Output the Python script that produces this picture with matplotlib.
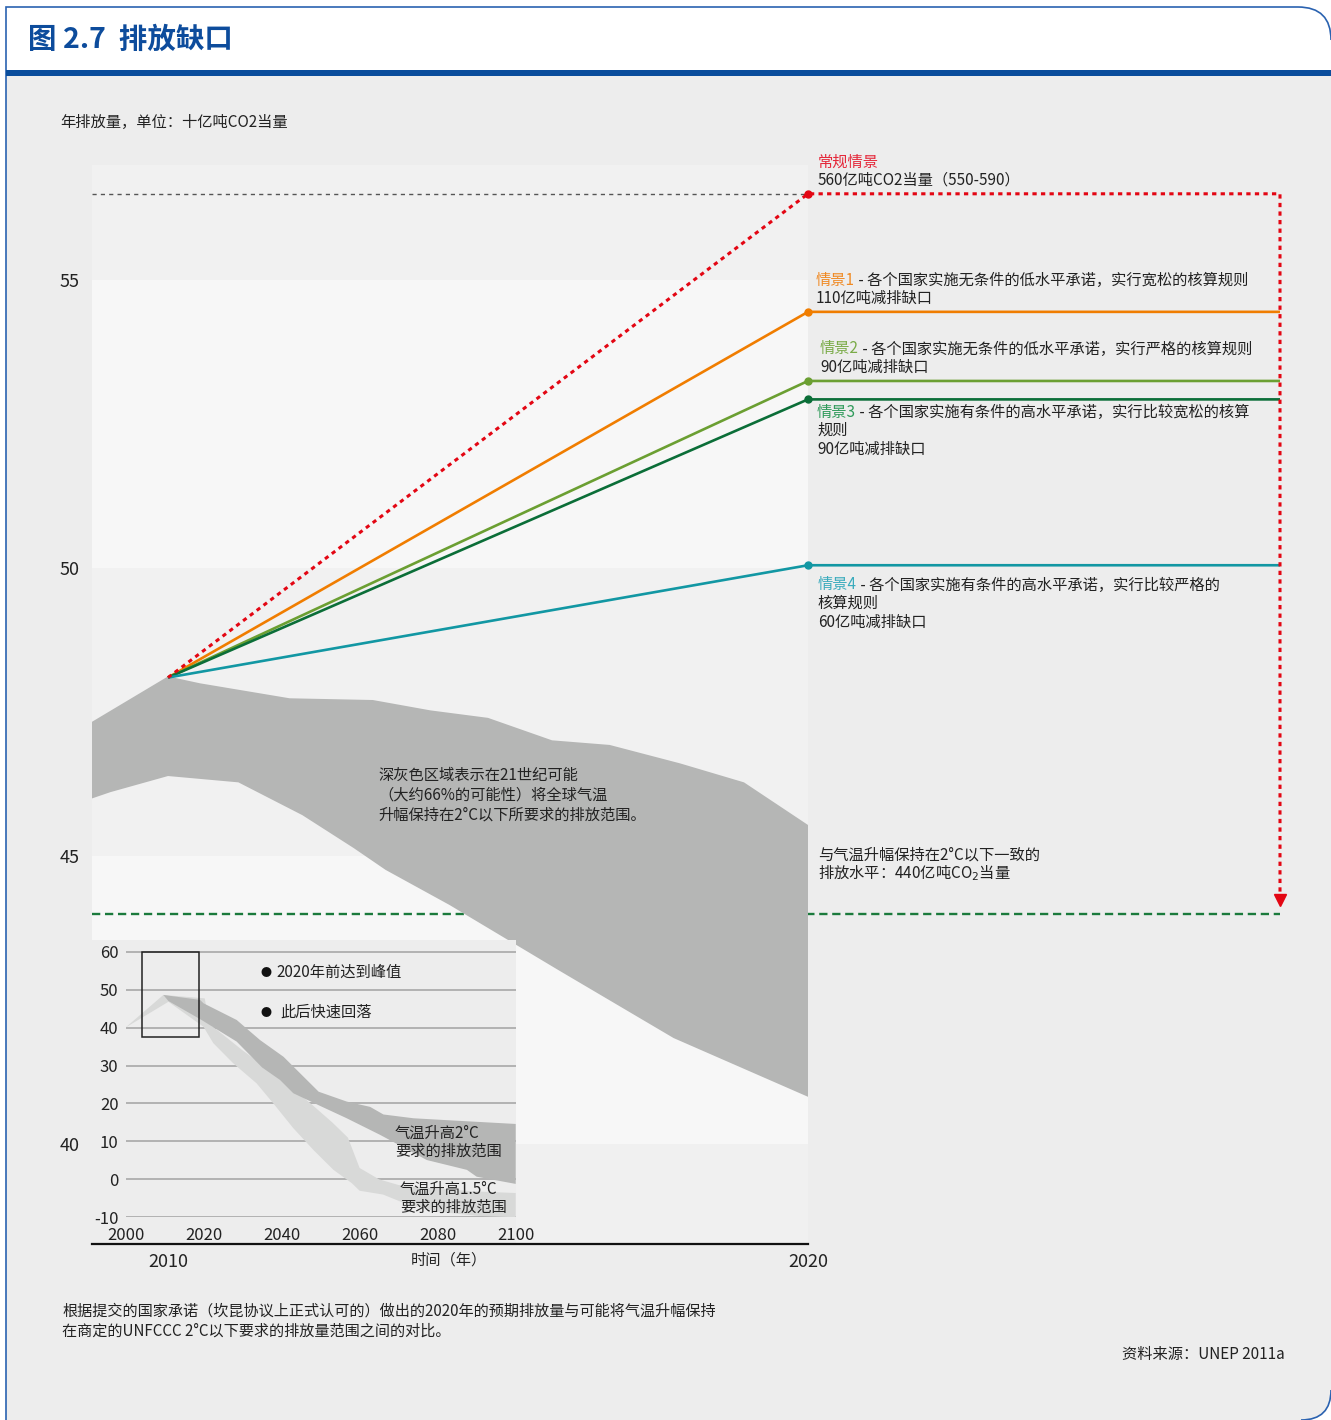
import matplotlib.pyplot as plt
import matplotlib.patches as mpatches
from matplotlib.path import Path
from matplotlib.text import Annotation

plt.rcParams['font.family'] = ['Noto Sans CJK SC', 'DejaVu Sans']
plt.rcParams['axes.unicode_minus'] = False

W, H = 1331, 1420

# dados do gráfico principal
ano_inicio = 2010
emissao_inicio = 48.1
cenarios = ['常规情景', '情景1', '情景2', '情景3', '情景4']
emissao_2020 = [56.5, 54.45, 53.25, 52.93, 50.05]
meta_2c = 44.0

faixa_sup_anos = [2008.81, 2010, 2010.5, 2011.9, 2013.2, 2014.1, 2015.0, 2016.0, 2016.9, 2018.0, 2019.0, 2020]
faixa_sup = [47.33, 48.12, 48.0, 47.74, 47.71, 47.53, 47.40, 47.01, 46.93, 46.61, 46.28, 45.54]
faixa_inf_anos = [2008.81, 2009.1, 2010, 2011.1, 2012.1, 2012.9, 2013.4, 2014.4, 2016.1, 2017.9, 2020]
faixa_inf = [46.0, 46.11, 46.39, 46.28, 45.71, 45.14, 44.76, 44.15, 43.02, 41.84, 40.82]

# dados do gráfico pequeno (2000-2100)
escuro_sup_anos = [2009.7, 2019.1, 2020, 2028.5, 2034.5, 2040.5, 2049.5, 2056.7, 2062.7, 2066.1, 2073.8, 2082.4, 2100]
escuro_sup = [48.6, 47.3, 46.4, 42.0, 36.7, 32.3, 23.1, 20.5, 19.1, 17.1, 16.1, 15.6, 14.6]
escuro_inf_anos = [2009.7, 2011, 2019.5, 2028.5, 2035, 2039.6, 2043, 2050, 2056.7, 2065.3, 2073.8, 2077.2, 2087.5, 2090, 2100]
escuro_inf = [48.6, 47.0, 42.0, 36.3, 29.5, 26.2, 22.7, 19.3, 16.1, 11.7, 7.0, 5.1, 2.5, 0.7, -1.2]
claro_sup_anos = [2000, 2009.7, 2020.3, 2021.5, 2030, 2040, 2048, 2053, 2057, 2060, 2065, 2070, 2080, 2090, 2100]
claro_sup = [40, 48.6, 47.7, 41.0, 34.0, 26.5, 19.5, 15.0, 11.0, 3.0, 0.0, -1.5, -2.5, -3.2, -3.6]
claro_inf_anos = [2000, 2011, 2020, 2022.5, 2027.6, 2033.6, 2037.9, 2043, 2048.2, 2053.3, 2058, 2060, 2066, 2072, 2080, 2090, 2100]
claro_inf = [40, 46.8, 40.2, 35.9, 30.6, 25.3, 20.0, 13.5, 7.7, 2.5, -1.0, -3.0, -4.0, -6.5, -8.5, -9.6, -10]

cores_linha = ['#e30613', '#f07d00', '#6b9f32', '#0b6e38', '#1297a3']
cores_texto = ['#e5283a', '#f08a24', '#7aab48', '#2f9a5a', '#3aabbd']
FS = 11


def fx(px):
    return px / W


def fy(py):
    return 1 - py / H


def P(px, py):
    return (fx(px), fy(py))


fig = plt.figure(figsize=(W / 100, H / 100), dpi=100)
fig.patch.set_facecolor('white')

# moldura e fundo
verts = [P(6, 76), P(1331, 76), P(1331, 1390), P(1331, 1420), P(1301, 1420), P(6, 1420), P(6, 76)]
codes = [Path.MOVETO, Path.LINETO, Path.LINETO, Path.CURVE3, Path.CURVE3, Path.LINETO, Path.CLOSEPOLY]
fig.add_artist(mpatches.PathPatch(Path(verts, codes), transform=fig.transFigure,
                                  facecolor='#ededed', edgecolor='none', zorder=-10))
borda = [P(6, 1420), P(6, 7), P(1298, 7), P(1331, 7), P(1331, 40)]
fig.add_artist(mpatches.PathPatch(Path(borda, [Path.MOVETO, Path.LINETO, Path.LINETO, Path.CURVE3, Path.CURVE3]),
                                  transform=fig.transFigure, fill=False, edgecolor='#2a62b0', lw=1.2, zorder=-9))
fig.add_artist(mpatches.PathPatch(Path([P(1331, 1390), P(1331, 1420), P(1301, 1420)],
                                       [Path.MOVETO, Path.CURVE3, Path.CURVE3]),
                                  transform=fig.transFigure, fill=False, edgecolor='#2a62b0', lw=1.2, zorder=-9))
fig.add_artist(mpatches.Rectangle(P(6, 76), fx(1331) - fx(6), 6 / H, transform=fig.transFigure,
                                  facecolor='#0a4d9c', edgecolor='none', zorder=-9))

fig.text(fx(28), fy(40), '图 2.7  排放缺口', fontsize=20.5, fontweight='bold', color='#0d4c9c', va='center')
fig.text(fx(60), fy(122), '年排放量，单位：十亿吨CO2当量', fontsize=11, color='#222222', va='center')

# eixo principal
x0, x1 = 2008.8125, 2027.375
y0, y1 = 38.264, 57.0
ax = fig.add_axes([fx(92), fy(1244), fx(1280) - fx(92), (1244 - 165) / H])
ax.set_xlim(x0, x1)
ax.set_ylim(y0, y1)
ax.set_facecolor('none')

xmax = (2020 - x0) / (x1 - x0)
limites = [y0, 40, 45, 50, 55, y1]
cores_faixa = ['#f0f0f0', '#f7f7f7', '#f1f1f1', '#f7f7f7', '#f1f1f1']
for i in range(5):
    ax.axhspan(limites[i], limites[i + 1], xmin=0, xmax=xmax, color=cores_faixa[i], lw=0, zorder=0)

ax.plot([x0, 2020], [emissao_2020[0]] * 2, color='#555555', lw=1.0, dashes=(3, 3), zorder=1)
ax.plot([x0, x1], [meta_2c] * 2, color='#1b7a3c', lw=1.7, dashes=(3.5, 2), zorder=1, clip_on=False)

poli_x = faixa_sup_anos + faixa_inf_anos[::-1]
poli_y = faixa_sup + faixa_inf[::-1]
ax.fill(poli_x, poli_y, color='#b5b6b5', lw=0, zorder=2)

# fundo do gráfico pequeno
ax.add_patch(mpatches.Rectangle((x0, y0), 2015.44 - x0, 43.54 - y0, facecolor='#ededed',
                                edgecolor='none', zorder=3))

for i in range(1, 5):
    v = emissao_2020[i]
    ax.plot([ano_inicio, 2020, x1], [emissao_inicio, v, v], color=cores_linha[i], lw=1.9,
            zorder=4, clip_on=False, solid_capstyle='butt')
    ax.plot(2020, v, 'o', ms=5, color=cores_linha[i], zorder=5)

xs = x1
ax.plot([ano_inicio, 2020, xs, xs], [emissao_inicio, emissao_2020[0], emissao_2020[0], 44.3],
        color=cores_linha[0], lw=2.2, dashes=(1.4, 1.4), zorder=5, clip_on=False)
ax.plot(2020, emissao_2020[0], 'o', ms=5, color=cores_linha[0], zorder=6)
ax.plot(xs, 44.24, marker='v', ms=8, color=cores_linha[0], zorder=6, clip_on=False)

ax.set_yticks([40, 45, 50, 55])
ax.set_xticks([2010, 2020])
ax.tick_params(axis='y', length=0, labelsize=13, pad=9, labelcolor='#222222')
ax.tick_params(axis='x', length=0, labelsize=13, pad=6.5, labelcolor='#222222')
for s in ['top', 'right', 'left']:
    ax.spines[s].set_visible(False)
ax.spines['bottom'].set_bounds(x0, 2020)
ax.spines['bottom'].set_linewidth(1.6)
ax.spines['bottom'].set_color('#111111')
ax.spines['bottom'].set_zorder(10)

fig.text(fx(449), fy(1260), '时间（年）', fontsize=11, color='#222222', ha='center', va='center')

fig.text(fx(378), fy(795), '深灰色区域表示在21世纪可能\n（大约66%的可能性）将全球气温\n升幅保持在2°C以下所要求的排放范围。',
         fontsize=FS, color='#222222', va='center', linespacing=1.2)


def rotulo(x, y, prefixo, cor, resto, linhas):
    t = fig.text(fx(x), fy(y), prefixo, color=cor, fontsize=FS, va='center')
    if resto:
        fig.add_artist(Annotation(resto, xy=(1, 0.5), xycoords=t, va='center', ha='left',
                                  fontsize=FS, color='#222222'))
    for k, linha in enumerate(linhas):
        fig.text(fx(x), fy(y + (k + 1) * 18.5), linha, fontsize=FS, color='#222222', va='center')


rotulo(818, 162, cenarios[0], cores_texto[0], '', ['560亿吨CO2当量（550-590）'])
rotulo(816, 280, cenarios[1], cores_texto[1], ' - 各个国家实施无条件的低水平承诺，实行宽松的核算规则', ['110亿吨减排缺口'])
rotulo(820, 349, cenarios[2], cores_texto[2], ' - 各个国家实施无条件的低水平承诺，实行严格的核算规则', ['90亿吨减排缺口'])
rotulo(817, 412, cenarios[3], cores_texto[3], ' - 各个国家实施有条件的高水平承诺，实行比较宽松的核算', ['规则', '90亿吨减排缺口'])
rotulo(818, 585, cenarios[4], cores_texto[4], ' - 各个国家实施有条件的高水平承诺，实行比较严格的', ['核算规则', '60亿吨减排缺口'])
rotulo(818, 855, '与气温升幅保持在2°C以下一致的', '#222222', '', ['排放水平：440亿吨CO$_2$当量'])

# gráfico pequeno
ins = fig.add_axes([fx(125.5), fy(1217.3), (515.7 - 125.5) / W, (1217.3 - 940.7) / H])
ins.set_xlim(2000, 2100)
ins.set_ylim(-10, 62.9)
ins.set_facecolor('none')
for s in ins.spines.values():
    s.set_visible(False)
ins.set_yticks(range(-10, 61, 10))
ins.set_xticks(range(2000, 2101, 20))
ins.tick_params(axis='y', length=0, labelsize=12, pad=5, labelcolor='#222222')
ins.tick_params(axis='x', length=0, labelsize=12, pad=7, labelcolor='#222222')
ins.set_axisbelow(True)
ins.grid(axis='y', color='#a8a8a8', lw=1.2)
ins.grid(axis='x', visible=False)

ins.fill(claro_sup_anos + claro_inf_anos[::-1], claro_sup + claro_inf[::-1], color='#d8d9d8', lw=0, zorder=2)
ins.fill(escuro_sup_anos + escuro_inf_anos[::-1], escuro_sup + escuro_inf[::-1], color='#b5b6b5', lw=0, zorder=3)
ins.add_patch(mpatches.Rectangle((2004.3, 37.5), 14.5, 22.3, fill=False, ec='#222222', lw=1.1, zorder=4))

fig.text(fx(266), fy(973), '●', fontsize=8, color='#111111', ha='center', va='center')
fig.text(fx(276), fy(972), '2020年前达到峰值', fontsize=11, color='#222222', va='center')
fig.text(fx(266), fy(1013), '●', fontsize=8, color='#111111', ha='center', va='center')
fig.text(fx(280), fy(1012), '此后快速回落', fontsize=11, color='#222222', va='center')
fig.text(fx(395), fy(1142), '气温升高2°C\n要求的排放范围', fontsize=11, color='#222222', va='center', linespacing=1.1)
fig.text(fx(400), fy(1198), '气温升高1.5°C\n要求的排放范围', fontsize=11, color='#222222', va='center', linespacing=1.1)

# notas
fig.text(fx(62), fy(1321), '根据提交的国家承诺（坎昆协议上正式认可的）做出的2020年的预期排放量与可能将气温升幅保持\n在商定的UNFCCC 2°C以下要求的排放量范围之间的对比。',
         fontsize=10.9, color='#222222', va='center', linespacing=1.2)
fig.text(fx(1285), fy(1354), '资料来源：UNEP 2011a', fontsize=11, color='#222222', ha='right', va='center')

fig.savefig('out.png', dpi=100, facecolor=fig.get_facecolor())
